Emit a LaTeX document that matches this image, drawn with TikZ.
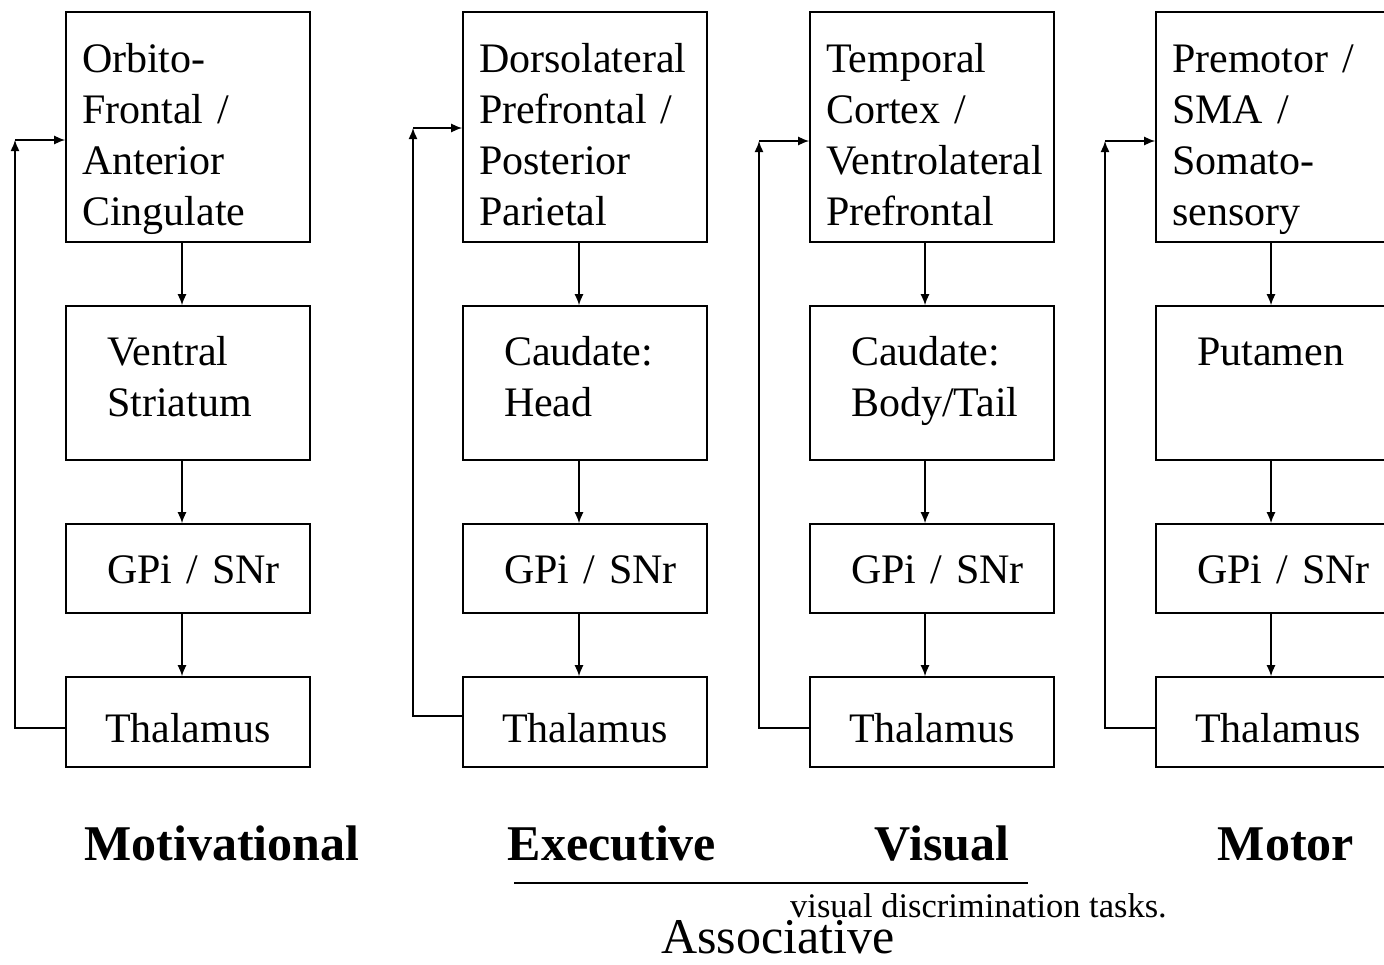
\documentclass[tikz,border=0pt]{standalone}
\usepackage{fontspec}
\setmainfont{Liberation Serif}
\usetikzlibrary{arrows.meta}
\tikzset{
  box/.style={draw, line width=1.6pt, minimum width=244pt, inner ysep=0pt, align=left,
    font=\fontsize{42}{51}\selectfont},
  topbox/.style={box, inner xsep=16pt, text width=212pt, text height=60pt, text depth=170pt},
  midbox/.style={box, inner xsep=41pt, text width=162pt, text height=59pt, text depth=95pt},
  gpbox/.style={box, inner xsep=41pt, text width=162pt, text height=59pt, text depth=30pt},
  thbox/.style={box, inner xsep=39pt, text width=166pt, text height=65pt, text depth=25pt},
  arr/.style={line width=1.5pt, -{Latex[length=11pt,width=9pt]}},
  title/.style={font=\fontsize{50}{60}\selectfont\bfseries, anchor=base, inner sep=0pt}
}
\begin{document}
\begin{tikzpicture}[x=1pt,y=-1pt]
\useasboundingbox (0,0) rectangle (1384,964);
\clip (0,0) rectangle (1384,964);
\fill[white] (0,0) rectangle (1384,964);
% column 1
\node[topbox] (o1) at (188,127) {Orbito-\\Frontal /\\Anterior\\Cingulate};
\node[midbox] (m1) at (188,383) {Ventral\\Striatum};
\node[gpbox] (g1) at (188,568.5) {\mbox{GPi / SNr}};
\node[thbox] (t1) at (188,722) {Thalamus};
% column 2
\node[topbox] (o2) at (585,127) {Dorsolateral\\Prefrontal /\\Posterior\\Parietal};
\node[midbox] (m2) at (585,383) {Caudate:\\Head};
\node[gpbox] (g2) at (585,568.5) {\mbox{GPi / SNr}};
\node[thbox] (t2) at (585,722) {Thalamus};
% column 3
\node[topbox] (o3) at (932,127) {Temporal\\Cortex /\\Ventrolateral\\Prefrontal};
\node[midbox] (m3) at (932,383) {Caudate:\\Body/Tail};
\node[gpbox] (g3) at (932,568.5) {\mbox{GPi / SNr}};
\node[thbox] (t3) at (932,722) {Thalamus};
% column 4
\node[topbox] (o4) at (1278,127) {Premotor /\\SMA /\\Somato-\\sensory};
\node[midbox] (m4) at (1278,383) {Putamen};
\node[gpbox] (g4) at (1278,568.5) {\mbox{GPi / SNr}};
\node[thbox] (t4) at (1278,722) {Thalamus};
% vertical arrows
\foreach \i/\s in {1/-6,2/-6,3/-7,4/-7}{
  \draw[arr] ([xshift=\s pt]o\i.south) -- ([xshift=\s pt]m\i.north);
  \draw[arr] ([xshift=\s pt]m\i.south) -- ([xshift=\s pt]g\i.north);
  \draw[arr] ([xshift=\s pt]g\i.south) -- ([xshift=\s pt]t\i.north);
}
% feedback loops
\coordinate (c1) at (15,140);
\coordinate (c2) at (413,128);
\coordinate (c3) at (759,141);
\coordinate (c4) at (1105,141);
\draw[arr] ([yshift=-6pt]t1.west) -| (c1);
\draw[arr] ([yshift=6pt]t2.west) -| (c2);
\draw[arr] ([yshift=-6pt]t3.west) -| (c3);
\draw[arr] ([yshift=-6pt]t4.west) -| (c4);
\draw[arr] (c1) -- (o1.west |- c1);
\draw[arr] (c2) -- (o2.west |- c2);
\draw[arr] (c3) -- (o3.west |- c3);
\draw[arr] (c4) -- (o4.west |- c4);
% titles
\node[title] (motivational) at (222,860) {Motivational};
\node[title] (executive) at (612,860) {Executive};
\node[title] (visual) at (942,860) {Visual};
\node[title] (motor) at (1286,860) {Motor};
\coordinate (la) at (514,883);
\coordinate (lb) at (1028,883);
\draw[line width=1.8pt] (la) -- (lb);
\node[anchor=base west, inner sep=0pt, font=\fontsize{34.5}{40}\selectfont] (vdt) at (790,917) {visual discrimination tasks.};
\node[anchor=base, inner sep=0pt, font=\fontsize{50}{60}\selectfont] (assoc) at (778,953) {Associative};
\end{tikzpicture}
\end{document}
